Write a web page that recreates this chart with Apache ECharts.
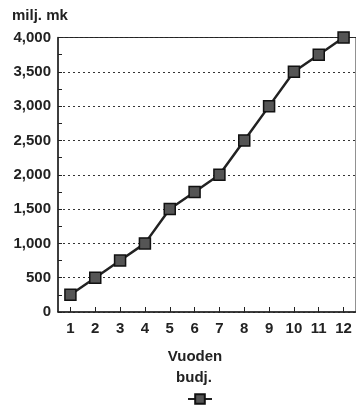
<!DOCTYPE html>
<html>
<head>
<meta charset="utf-8">
<script src="https://cdn.jsdelivr.net/npm/echarts@6/dist/echarts.min.js"></script>
<style>html,body{margin:0;padding:0;background:#fff;}#c{width:356px;height:405px;}</style>
</head>
<body>
<div id="c"></div>
<script>
const categories = ['1','2','3','4','5','6','7','8','9','10','11','12'];
const budgetValues = [250, 500, 750, 1000, 1500, 1750, 2000, 2500, 3000, 3500, 3750, 4000];
const seriesName = 'Vuoden budj.';
const unitLabel = 'milj. mk';
const legendLines = ['Vuoden', 'budj.'];

const font = 'Liberation Sans, Arial, sans-serif';
const chart = echarts.init(document.getElementById('c'), null, {renderer: 'canvas'});
chart.setOption({
  backgroundColor: '#fff',
  animation: false,
  grid: {left: 58, top: 37.5, width: 300, height: 274.5, show: true, borderColor: '#222', borderWidth: 1, backgroundColor: 'transparent'},
  xAxis: {
    type: 'category', data: categories, boundaryGap: true,
    axisLine: {lineStyle: {color: '#222', width: 1.5}},
    axisTick: {show: true, alignWithLabel: true, inside: true, length: 5, lineStyle: {color: '#222', width: 1}},
    axisLabel: {color: '#222', fontFamily: font, fontSize: 15, fontWeight: 'bold', margin: 9, interval: 0},
    splitLine: {show: false}
  },
  yAxis: {
    type: 'value', min: 0, max: 4000, interval: 500,
    axisLine: {show: true, lineStyle: {color: '#222', width: 1.5}},
    axisTick: {show: true, inside: true, length: 4, lineStyle: {color: '#222'}},
    minorTick: {show: true, splitNumber: 2, length: 4, lineStyle: {color: '#222'}},
    axisLabel: {color: '#222', fontFamily: font, fontSize: 15, fontWeight: 'bold', margin: 7,
      formatter: v => v.toLocaleString('en-US')},
    splitLine: {show: true, lineStyle: {color: '#333', type: [2, 3], width: 1}}
  },
  legend: {
    show: true, left: 182, top: 388, itemWidth: 24, itemHeight: 12,
    formatter: () => '', data: [seriesName],
    textStyle: {fontSize: 1}
  },
  graphic: [
    {type: 'text', left: 12, top: 8, style: {text: unitLabel, font: 'bold 15px ' + font, fill: '#222'}},
    {type: 'text', x: 195, y: 357, style: {text: legendLines[0], font: 'bold 15px ' + font, fill: '#222', align: 'center', verticalAlign: 'middle'}},
    {type: 'text', x: 194, y: 378, style: {text: legendLines[1], font: 'bold 15px ' + font, fill: '#222', align: 'center', verticalAlign: 'middle'}}
  ],
  series: [{
    name: seriesName, type: 'line', data: budgetValues,
    symbol: 'rect', symbolSize: 11, showAllSymbol: true,
    lineStyle: {color: '#222', width: 2.5},
    itemStyle: {color: '#555', borderColor: '#111', borderWidth: 1.5}
  }]
});
</script>
</body>
</html>
